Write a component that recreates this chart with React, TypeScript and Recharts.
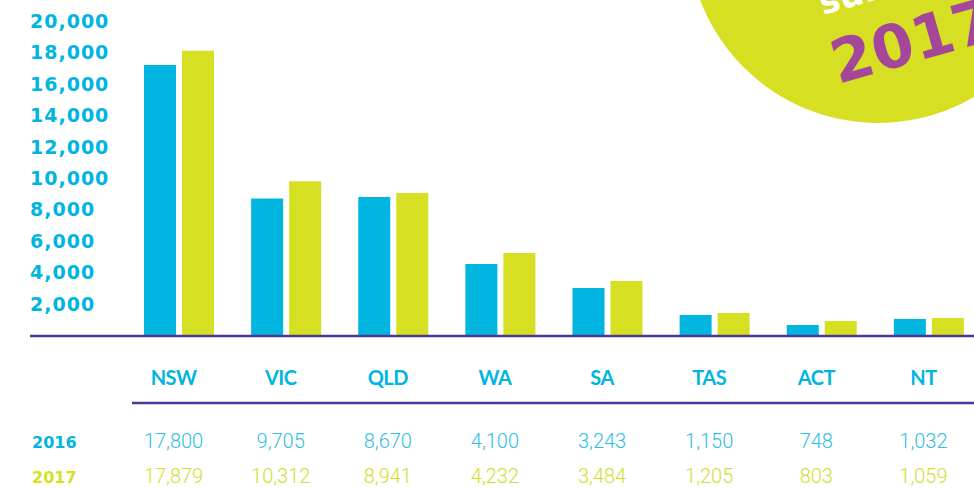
import { BarChart, Bar, XAxis, YAxis } from "recharts";

const states = ["NSW", "VIC", "QLD", "WA", "SA", "TAS", "ACT", "NT"];
// bar heights as drawn
const bars2016 = [17200, 8700, 8790, 4520, 2990, 1270, 640, 1020];
const bars2017 = [18100, 9800, 9050, 5220, 3440, 1400, 890, 1080];
// table figures printed under the chart
const table2016 = [17800, 9705, 8670, 4100, 3243, 1150, 748, 1032];
const table2017 = [17879, 10312, 8941, 4232, 3484, 1205, 803, 1059];
const yTicks = [2000, 4000, 6000, 8000, 10000, 12000, 14000, 16000, 18000, 20000];

const BLUE = "#00b5df";
const LIME = "#d6df22";
const PURPLE = "#4a3894";

const data = states.map((s, i) => ({ state: s, y2016: bars2016[i], y2017: bars2017[i] }));

const fmt = (n: number) => n.toLocaleString("en-US");

const YTick = (props: any) => {
  const { y, payload } = props;
  return (
    <text x={33} y={y + 7} textAnchor="start" fill={BLUE} fontFamily="DejaVu Sans" fontWeight="bold" fontSize={19} letterSpacing={1}>
      {fmt(payload.value)}
    </text>
  );
};

const StateTick = (props: any) => {
  const { x, y, payload } = props;
  const i = payload.index;
  const cx = x - 5;
  return (
    <g>
      <text x={cx} y={y + 50} textAnchor="middle" fill={BLUE} fontFamily="Lato" fontWeight="bold" fontSize={20} letterSpacing={-0.5}>
        {payload.value}
      </text>
      <text x={cx} y={y + 113} textAnchor="middle" fill="#2fbee7" fontFamily="Roboto" fontWeight={300} fontSize={20}>
        {fmt(table2016[i])}
      </text>
      <text x={cx} y={y + 148} textAnchor="middle" fill="#d4dd2c" fontFamily="Roboto" fontWeight={300} fontSize={20}>
        {fmt(table2017[i])}
      </text>
    </g>
  );
};

export default function App() {
  return (
    <div style={{ position: "absolute", left: 0, top: 0, width: 974, height: 489, overflow: "hidden", background: "#fff" }}>
      <svg width={974} height={489} style={{ position: "absolute", left: 0, top: 0 }}>
        <circle cx={878} cy={-67} r={190} fill={LIME} />
        <text x={823} y={15} fill="#fff" fontFamily="DejaVu Sans" fontWeight="bold" fontSize={34} transform="rotate(-16 823 15)">
          survey
        </text>
        <text x={838} y={84} fill="#a4479a" fontFamily="DejaVu Sans" fontWeight="bold" fontSize={60} transform="rotate(-16 838 84)">
          2017
        </text>
      </svg>
      <div style={{ position: "absolute", left: -3, top: 0 }}>
        <BarChart width={985} height={489} data={data} margin={{ top: 21, right: 0, bottom: 0, left: 0 }} barSize={32} barGap={6}>
          <YAxis width={128} domain={[0, 20000]} ticks={yTicks} axisLine={false} tickLine={false} tick={<YTick />} interval={0} />
          <XAxis dataKey="state" height={154} axisLine={false} tickLine={false} tickSize={0} tickMargin={0} tick={<StateTick />} interval={0} />
          <Bar dataKey="y2016" fill={BLUE} isAnimationActive={false} />
          <Bar dataKey="y2017" fill={LIME} isAnimationActive={false} />
        </BarChart>
      </div>
      <svg width={974} height={489} style={{ position: "absolute", left: 0, top: 0, pointerEvents: "none" }}>
        <line x1={30} x2={974} y1={336} y2={336} stroke={PURPLE} strokeWidth={2.5} />
        <line x1={132} x2={974} y1={403} y2={403} stroke={PURPLE} strokeWidth={2.5} />
        <text x={32} y={448} fill={BLUE} fontFamily="DejaVu Sans" fontWeight="bold" fontSize={16}>2016</text>
        <text x={32} y={483} fill={LIME} fontFamily="DejaVu Sans" fontWeight="bold" fontSize={16}>2017</text>
      </svg>
    </div>
  );
}
